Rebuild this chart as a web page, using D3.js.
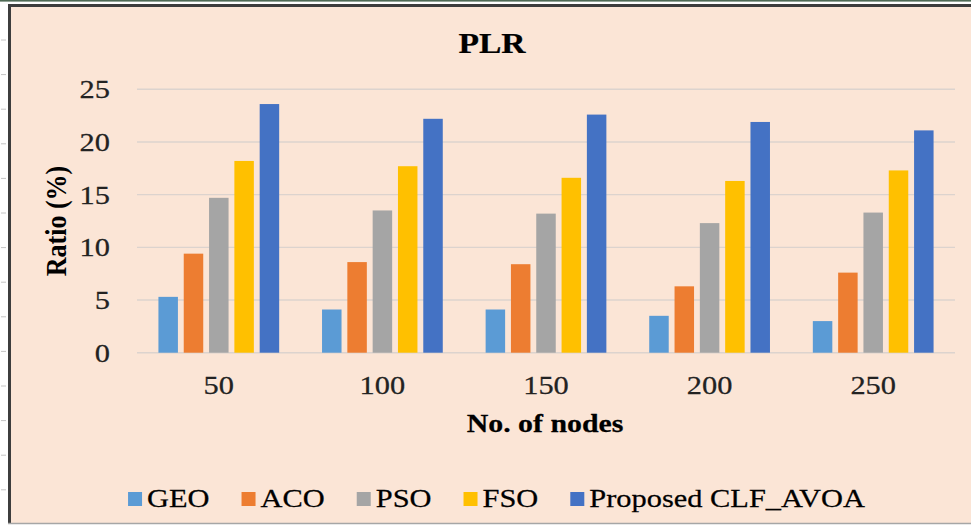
<!DOCTYPE html>
<html><head><meta charset="utf-8">
<script src="https://cdn.jsdelivr.net/npm/d3@7"></script>
<style>html,body{margin:0;padding:0;background:#ffffff}svg{display:block}</style>
</head><body>
<svg id="c" width="971" height="526"></svg>
<script>
// ---- data ----
const categories = ["50", "100", "150", "200", "250"];
const seriesNames = ["GEO", "ACO", "PSO", "FSO", "Proposed CLF_AVOA"];
const GEO = [5.3, 4.1, 4.1, 3.5, 3.0];
const ACO = [9.4, 8.6, 8.4, 6.3, 7.6];
const PSO = [14.7, 13.5, 13.2, 12.3, 13.3];
const FSO = [18.2, 17.7, 16.6, 16.3, 17.3];
const CLF_AVOA = [23.6, 22.2, 22.6, 21.9, 21.1];
const yTicks = [0, 5, 10, 15, 20, 25];
const colors = ["#5B9BD5", "#ED7D31", "#A5A5A5", "#FFC000", "#4472C4"];
const titleText = "PLR";
const xTitle = "No. of nodes";
const yTitle = "Ratio (%)";

const seriesValues = [GEO, ACO, PSO, FSO, CLF_AVOA];
const table = categories.map((c, i) => ({cat: c, vals: seriesNames.map((s, j) => ({name: s, v: seriesValues[j][i], color: colors[j]}))}));

const svg = d3.select("#c");
const SX = 1.17; // horizontal stretch of the original picture
const FONT = "'Liberation Serif','Times New Roman',serif";

// ---- frame ----
svg.append("rect").attr("x", 0).attr("y", 0).attr("width", 971).attr("height", 526).attr("fill", "#ffffff");
svg.append("rect").attr("x", 0).attr("y", 0).attr("width", 971).attr("height", 1.6).attr("fill", "#4f6a55");
svg.append("rect").attr("x", 9).attr("y", 5).attr("width", 980).attr("height", 518).attr("fill", "#FBE5D6");
svg.append("line").attr("x1", 9.5).attr("x2", 971).attr("y1", 5.5).attr("y2", 5.5).attr("stroke", "#3d3d3d").attr("stroke-width", 3);
svg.append("line").attr("x1", 9.5).attr("x2", 9.5).attr("y1", 4).attr("y2", 523).attr("stroke", "#3d3d3d").attr("stroke-width", 3);
svg.append("line").attr("x1", 8).attr("x2", 971).attr("y1", 523.5).attr("y2", 523.5).attr("stroke", "#a6a6a6").attr("stroke-width", 1.5);
svg.selectAll("line.rowmark").data(d3.range(14)).join("line").attr("class", "rowmark")
  .attr("x1", 1).attr("x2", 6).attr("y1", i => 40 + i * 34.6).attr("y2", i => 40 + i * 34.6)
  .attr("stroke", "#c4c4c4").attr("stroke-width", 1);

// ---- scales ----
const x0 = d3.scaleBand().domain(categories).range([137, 955]).paddingInner(0.262).paddingOuter(0.131);
const x1 = d3.scaleBand().domain(seriesNames).range([0, x0.bandwidth()]).paddingInner(0.23);
const y = d3.scaleLinear().domain([0, 25]).range([352.7, 89.3]);

// gridlines
svg.append("g").selectAll("line").data(yTicks).join("line")
  .attr("x1", 137).attr("x2", 955)
  .attr("y1", d => y(d)).attr("y2", d => y(d))
  .attr("stroke", "#dcd3ce").attr("stroke-width", 1.4);

// bars
const groups = svg.append("g").selectAll("g").data(table).join("g")
  .attr("transform", d => `translate(${x0(d.cat)},0)`);
groups.selectAll("rect").data(d => d.vals).join("rect")
  .attr("x", d => x1(d.name)).attr("width", x1.bandwidth())
  .attr("y", d => y(d.v)).attr("height", d => y(0) - y(d.v))
  .attr("fill", d => d.color);

function txt(x, yy, str, o) {
  return svg.append("text")
    .attr("transform", `translate(${x},${yy}) scale(${o.sx || SX},1)`)
    .attr("text-anchor", o.anchor || "middle")
    .attr("font-family", FONT).attr("font-size", o.size)
    .attr("font-weight", o.bold ? "bold" : "normal")
    .attr("fill", o.fill || "#000")
    .attr("stroke", o.fill || "#000").attr("stroke-width", 0.25)
    .text(str);
}

// y tick labels
yTicks.forEach(t => txt(110, y(t) + 9, String(t), {size: 26, anchor: "end", fill: "#222"}));
// x tick labels
categories.forEach(c => txt(x0(c) + x0.bandwidth() / 2, 394, c, {size: 26, fill: "#222"}));

// titles
txt(492, 53, titleText, {size: 30, bold: true, sx: 1.12});
txt(545, 432, xTitle, {size: 25.5, bold: true});
svg.append("text")
  .attr("transform", `translate(66,221) scale(${SX},1) rotate(-90)`)
  .attr("text-anchor", "middle").attr("font-family", FONT).attr("font-size", 26)
  .attr("font-weight", "bold").attr("fill", "#000").text(yTitle);

// legend
const lg = svg.append("g");
const items = lg.selectAll("g").data(seriesNames).join("g");
items.append("rect").attr("width", 14).attr("height", 14).attr("y", -15).attr("fill", (d, i) => colors[i]);
items.append("text").attr("transform", `translate(19,0) scale(${SX},1)`)
  .attr("font-family", FONT).attr("font-size", 26).attr("fill", "#000")
  .attr("stroke", "#000").attr("stroke-width", 0.25).text(d => d);
const widths = [];
items.each(function () {
  const w = 19 + d3.select(this).select("text").node().getComputedTextLength() * SX;
  widths.push(w);
});
const gap = 32;
const total = d3.sum(widths) + gap * (widths.length - 1);
let start = 496.5 - total / 2;
items.attr("transform", (d, i) => {
  const tx = start; start += widths[i] + gap; return `translate(${tx},507)`;
});
</script>
</body></html>
